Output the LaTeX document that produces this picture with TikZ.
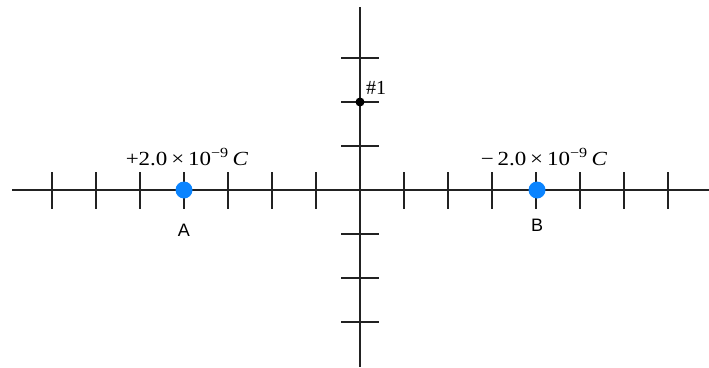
\documentclass[tikz,border=0pt]{standalone}
\usepackage{fontspec}
\setmainfont{Liberation Serif}
\newfontfamily\lblsans{Liberation Sans}
\definecolor{axisgray}{HTML}{222222}
\definecolor{chargeblue}{HTML}{0A84FF}
\begin{document}
\begin{tikzpicture}[x=1pt,y=-1pt,
  axisline/.style={draw=axisgray,line width=1.8pt},
  tickline/.style={draw=axisgray,line width=1.5pt},
  charge/.style={circle,fill=chargeblue,inner sep=0pt,minimum size=17pt},
  testpt/.style={circle,fill=black,inner sep=0pt,minimum size=9pt},
  chargelbl/.style={inner sep=0pt,font=\fontsize{20}{22}\selectfont},
  ptlbl/.style={inner sep=0pt,font=\lblsans\fontsize{18}{20}\selectfont}]
\useasboundingbox (0,0) rectangle (709,367);
\coordinate (xl) at (12,190);
\coordinate (xr) at (709,190);
\coordinate (yt) at (360,7);
\coordinate (yb) at (360,367);
\draw[axisline] (xl) -- (xr);
\draw[axisline] (yt) -- (yb);
\foreach \k in {0,...,14}{
  \pgfmathsetmacro{\xx}{52+44*\k}
  \ifnum\k=7\relax\else
    \draw[tickline] (\xx,172) -- (\xx,209);
  \fi
}
\foreach \yy in {58,102,146,234,278,322}{
  \draw[tickline] (341,\yy) -- (379,\yy);
}
\node[charge] (A) at (184,190) {};
\node[charge] (B) at (537,190) {};
\node[testpt] (P) at (360,102) {};
\node[chargelbl] (qA) at (187,157) {\scalebox{1.15}[1]{+2.0\,×\,10\textsuperscript{−9}\,\textit{C}}};
\node[chargelbl] (qB) at (544,157) {\scalebox{1.15}[1]{−\,2.0\,×\,10\textsuperscript{−9}\,\textit{C}}};
\node[ptlbl] (lA) at (184,230) {A};
\node[ptlbl] (lB) at (537,225) {B};
\node[chargelbl,anchor=west] (lP) at (366,88) {\#1};
\end{tikzpicture}
\end{document}
